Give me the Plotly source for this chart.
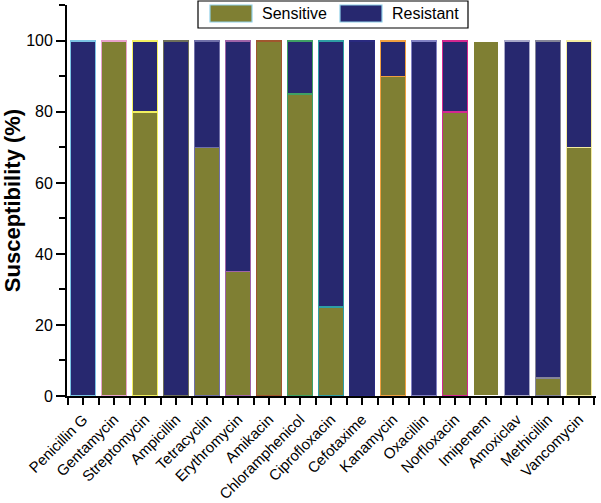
import plotly.graph_objects as go

antibiotics = ["Penicillin G", "Gentamycin", "Streptomycin", "Ampicillin", "Tetracyclin",
               "Erythromycin", "Amikacin", "Chloramphenicol", "Ciprofloxacin", "Cefotaxime",
               "Kanamycin", "Oxacillin", "Norfloxacin", "Imipenem", "Amoxiclav",
               "Methicillin", "Vancomycin"]
sensitive = [0, 100, 80, 0, 70, 35, 100, 85, 25, 0, 90, 0, 80, 100, 0, 5, 70]
resistant = [100, 0, 20, 100, 30, 65, 0, 15, 75, 100, 10, 100, 20, 0, 100, 95, 30]
outline_colors = ["#7cc4e4", "#e8a2cc", "#f2f060", "#6f705a", "#7070a8", "#a064a8",
                  "#a0562e", "#3fa064", "#2e9ea4", "#2a2a80", "#f0a040", "#8282c4",
                  "#d42890", "#ffffff", "#a8a8c8", "#858598", "#f4eca0"]
y_ticks = [0, 20, 40, 60, 80, 100]
series_names = ["Sensitive", "Resistant"]
series_colors = ["#7f7f33", "#27286f"]

idx = list(range(len(antibiotics)))

fig = go.Figure()
for name, vals, col in zip(series_names, [sensitive, resistant], series_colors):
    fig.add_trace(go.Bar(x=idx, y=vals, name=name, width=0.8, showlegend=False,
                         marker=dict(color=col, line=dict(color=outline_colors, width=1.5))))

# custom legend (large swatches, boxed)
W, H = 601, 503
L, R, T, B = 67, 5, 5, 107
pw, ph = W - L - R, H - T - B
def px(x): return (x - L) / pw
def py(y): return (H - B - y) / ph

shapes = [dict(type="rect", xref="paper", yref="paper", x0=px(198), x1=px(468),
               y0=py(28), y1=py(1), line=dict(color="black", width=1.2), fillcolor="white",
               layer="above")]
annotations = []
for (sx, tx), name, col in zip([(210, 260), (340, 390)], series_names, series_colors):
    shapes.append(dict(type="rect", xref="paper", yref="paper", x0=px(sx), x1=px(sx + 42),
                       y0=py(22), y1=py(5), line=dict(color="#8fd0e8", width=1.2), fillcolor=col,
                       layer="above"))
    annotations.append(dict(xref="paper", yref="paper", x=px(tx), y=py(13.5), text=name,
                            showarrow=False, xanchor="left", yanchor="middle",
                            font=dict(size=16, color="black")))

fig.update_layout(
    barmode="stack",
    width=W, height=H,
    margin=dict(l=L, r=R, t=T, b=B, autoexpand=False),
    paper_bgcolor="white", plot_bgcolor="white",
    font=dict(family="Liberation Sans, Arial, sans-serif", color="black", size=15),
    showlegend=False,
    shapes=shapes, annotations=annotations,
)
fig.update_xaxes(
    range=[-0.52, 16.55], tickvals=idx, ticktext=antibiotics, tickangle=-45,
    showline=True, linecolor="black", linewidth=1.8, showgrid=False, zeroline=False,
    ticks="outside", ticklen=7, tickwidth=1.8, tickcolor="black",
    tickfont=dict(size=15), automargin=False,
    minor=dict(tick0=0.5, dtick=1, ticks="outside", ticklen=7, tickwidth=1.8, tickcolor="black"),
)
fig.update_yaxes(
    range=[0, 110.1], tickvals=y_ticks,
    showline=True, linecolor="black", linewidth=1.8, showgrid=False, zeroline=False,
    ticks="outside", ticklen=9, tickwidth=1.8, tickcolor="black",
    tickfont=dict(size=16), automargin=False,
    minor=dict(tick0=10, dtick=20, ticks="outside", ticklen=6, tickwidth=1.8, tickcolor="black"),
    title=dict(text="<b>Susceptibility (%)</b>", font=dict(size=22), standoff=1),
)

fig.write_html("out.html", config={"displayModeBar": False},
               post_script="document.body.style.margin='0';")
